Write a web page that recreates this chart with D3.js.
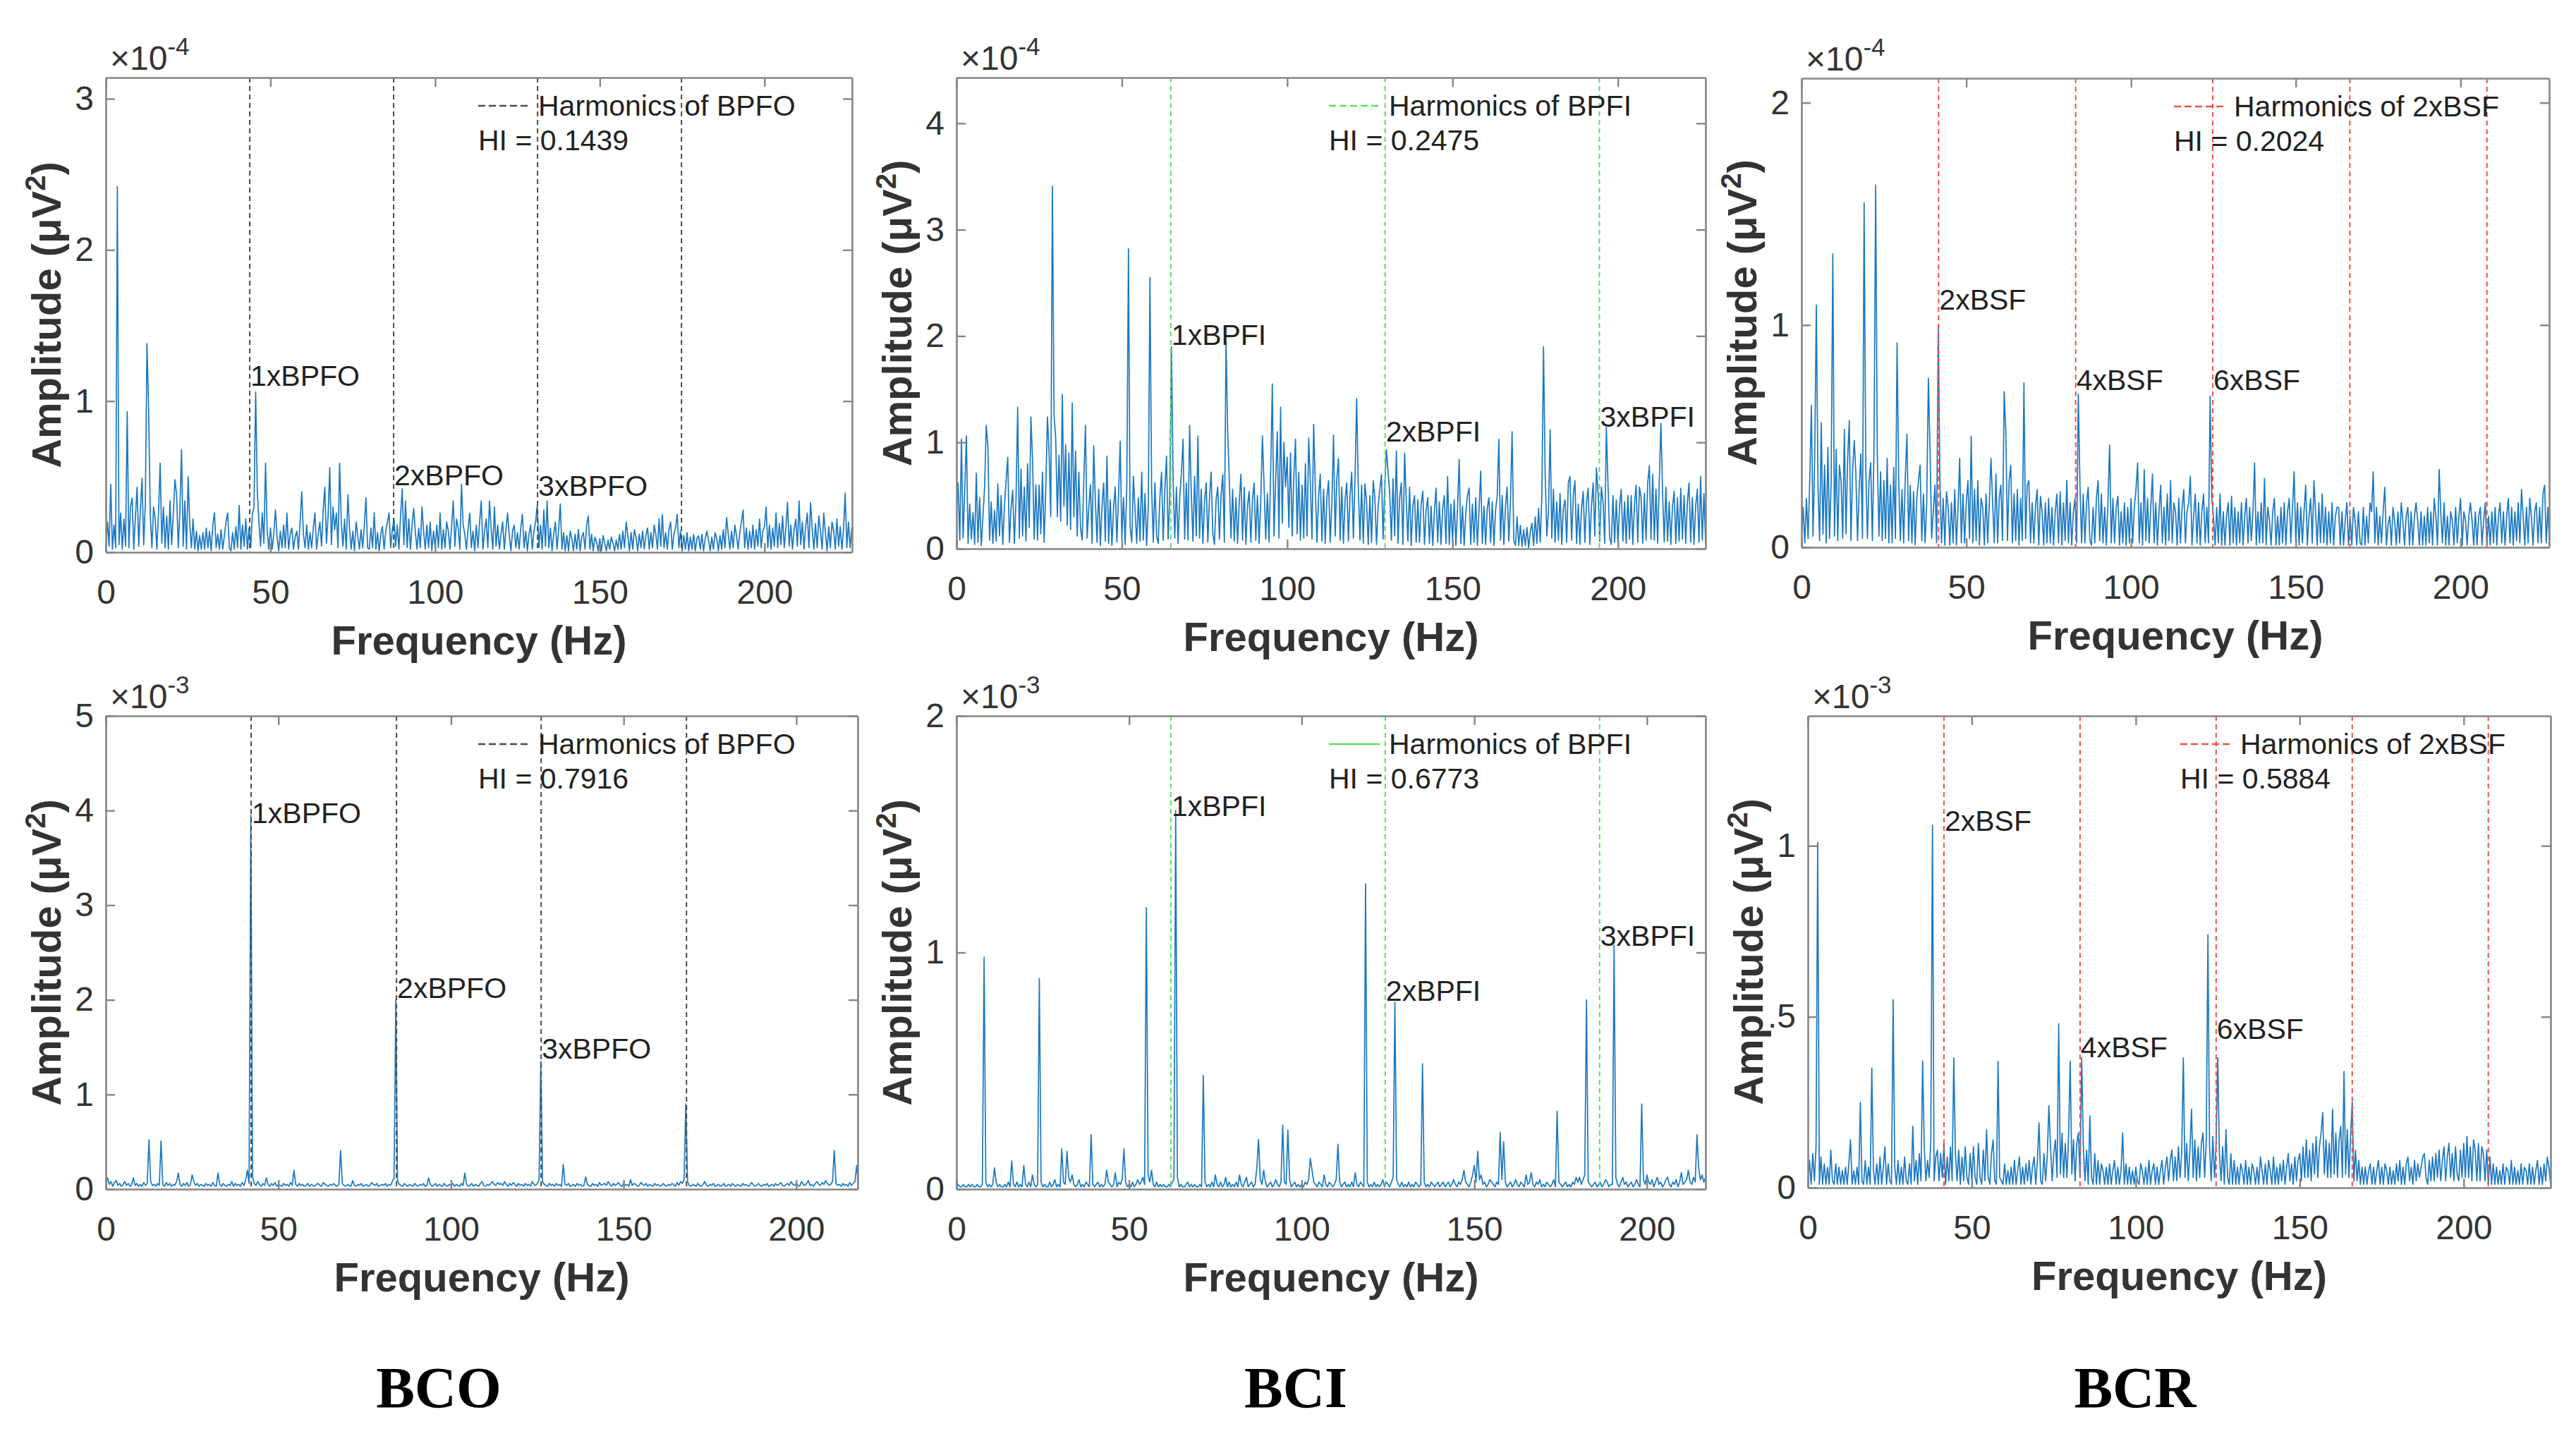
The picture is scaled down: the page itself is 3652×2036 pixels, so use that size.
<!DOCTYPE html>
<html><head><meta charset="utf-8">
<script src="https://cdn.jsdelivr.net/npm/d3@7"></script>
<style>body{margin:0;background:#fff}svg{display:block}</style>
</head><body>
<svg id="c" width="3652" height="2036"></svg>
<script>
// ---------- DATA (amplitudes sampled every 0.5 Hz, starting at 0 Hz) ----------
const freqStep = 0.5;
const xTickValues = [0, 50, 100, 150, 200];

// BCO, top (units of 1e-6 µV²)
const bcoTopAmp = [
3,20,4,45,2,18,3,242,5,26,2,22,4,93,3,30,36,2,24,43,
4,28,49,5,32,138,95,25,3,30,22,2,26,59,6,30,3,24,2,34,
5,26,48,38,3,28,68,4,34,2,50,18,3,22,2,14,1,11,2,13,
2,16,3,14,1,18,26,3,12,2,15,2,11,20,26,3,1,13,2,17,
3,31,2,18,4,22,2,16,3,25,30,106,40,20,4,26,6,59,14,2,
16,2,12,28,10,1,14,3,18,3,26,2,12,16,2,10,14,2,20,40,
12,3,18,2,13,3,16,26,2,12,20,4,28,43,6,24,56,5,30,15,
26,3,59,20,4,22,2,38,16,2,14,1,20,11,2,15,3,18,36,3,
2,16,3,26,2,13,1,12,17,2,14,20,26,3,15,22,4,18,2,24,
42,5,34,3,22,2,18,29,13,2,16,3,30,14,2,18,3,20,1,14,
3,18,3,26,2,15,3,20,14,2,17,34,4,22,16,2,45,18,12,2,
15,26,3,14,1,18,3,20,34,2,14,22,3,34,16,2,30,4,18,2,
12,20,2,15,26,11,1,14,18,3,13,2,16,25,3,14,1,12,18,2,
14,20,31,3,18,2,28,4,34,3,16,1,12,20,2,15,32,2,13,1,
11,1,14,9,1,12,2,15,1,10,13,2,18,24,2,12,1,10,7,1,
9,1,11,6,1,8,2,10,6,1,8,2,12,2,14,3,20,11,1,13,
2,15,10,1,12,3,14,2,11,16,2,13,3,18,12,2,22,4,25,3,
13,2,15,20,2,12,16,25,3,14,1,11,2,13,1,10,2,12,1,9,
11,2,12,1,9,14,8,1,10,2,13,9,1,11,2,15,3,23,12,2,
14,3,18,11,2,13,20,28,3,16,2,14,3,18,2,15,4,22,3,14,
17,30,3,18,2,16,4,26,3,19,5,24,3,16,33,4,18,2,15,22,
4,34,5,20,2,17,26,3,33,15,2,19,3,24,14,2,26,13,1,17,
3,20,14,2,22,4,17,2,15,39,3,20,3,16,2];

// BCI, top (units of 1e-6 µV²)
const bciTopAmp = [
40,62,8,103,10,55,106,5,42,9,34,4,71,6,48,3,30,58,116,96,
8,44,5,36,7,61,12,50,4,40,64,86,6,38,55,5,46,133,10,75,
12,58,7,80,20,124,84,9,60,8,60,14,72,6,56,124,90,30,341,126,
104,30,88,26,145,40,98,22,90,18,137,30,92,12,72,20,8,64,116,10,
38,60,5,97,44,6,56,3,40,62,7,87,5,46,3,38,58,6,50,101,
9,48,4,60,282,20,6,68,36,5,48,7,72,8,52,3,40,255,58,6,
62,12,5,48,72,8,56,87,9,50,190,66,10,58,5,48,70,103,9,62,
8,116,52,7,68,12,106,10,56,5,44,62,6,48,72,14,4,46,58,9,
50,70,6,195,110,64,10,56,7,48,5,44,70,8,58,4,40,54,6,46,
62,8,50,5,44,106,60,9,52,6,72,155,12,64,110,10,133,24,100,58,
86,20,90,12,68,103,14,72,8,60,10,80,12,104,62,9,117,58,6,50,
70,7,56,5,48,64,6,42,107,12,66,85,8,58,5,46,62,7,50,72,
10,66,141,56,8,60,5,61,44,4,50,6,64,48,4,40,56,70,9,60,
93,72,52,8,66,12,92,5,48,62,4,90,44,7,58,3,40,50,6,46,
6,42,54,4,36,48,5,40,3,34,57,6,44,4,38,50,5,68,4,42,
7,46,3,38,84,5,40,3,34,50,57,4,42,6,48,3,36,73,5,40,
4,38,48,6,44,3,36,50,103,8,50,4,40,58,7,44,110,8,3,30,
3,22,2,18,3,20,1,16,24,3,30,5,38,6,50,190,70,12,36,112,
10,56,6,44,8,52,4,38,46,6,62,68,8,50,64,5,42,4,38,54,
6,44,57,4,40,62,12,76,52,7,58,44,5,114,60,10,4,50,6,46,
4,40,56,7,44,5,50,9,50,4,42,60,6,58,48,5,52,8,62,78,
9,70,8,56,5,64,118,52,6,58,7,44,4,40,54,5,48,7,57,9,
50,5,44,62,6,48,4,40,56,6,68,8,52,5,46];

// BCR, top (units of 1e-6 µV²)
const bcrTopAmp = [
3,18,2,22,4,30,64,5,40,109,28,3,56,6,37,2,45,4,30,132,
5,44,3,37,30,4,53,6,40,57,3,34,48,33,3,26,42,4,155,36,
4,30,38,3,44,163,42,5,34,3,30,4,40,2,28,2,36,4,92,30,
3,26,2,32,51,3,28,2,25,1,22,30,37,3,24,2,20,76,44,4,
16,28,2,100,30,2,22,1,25,18,1,20,2,26,1,18,40,2,24,2,
20,30,4,50,2,26,3,30,1,22,18,1,24,2,20,40,20,2,33,2,
22,28,3,70,52,3,30,37,2,24,3,26,1,22,3,74,4,28,30,2,
20,2,18,26,1,23,16,1,20,2,22,2,18,1,16,24,2,25,1,20,
3,30,2,20,1,16,22,2,69,28,2,24,2,20,27,3,1,18,2,22,
30,3,24,2,18,1,20,46,2,22,2,18,23,1,16,2,20,1,18,2,
22,2,18,26,38,2,20,1,35,3,22,2,18,33,2,20,1,16,28,2,
18,1,24,3,30,2,20,16,1,22,2,18,26,2,16,20,32,1,14,24,
2,20,1,16,24,2,18,2,68,22,14,1,18,2,24,1,16,1,14,20,
1,23,2,18,1,16,2,20,1,14,22,2,18,3,16,38,1,16,2,20,
2,31,1,18,12,1,16,22,1,14,1,18,2,20,1,16,22,2,18,34,
2,20,1,18,2,16,28,1,14,22,2,30,16,1,20,2,24,2,18,1,
16,2,20,1,14,18,18,1,16,1,12,20,1,14,1,18,12,1,16,2,
1,18,1,14,2,20,16,34,2,18,1,14,2,16,27,1,10,14,1,18,
12,1,16,2,20,12,1,14,18,1,16,1,14,20,12,1,16,1,14,1,
18,2,16,1,22,14,1,35,16,2,20,1,14,1,16,12,1,18,2,14,
22,1,16,12,1,14,20,12,1,16,1,14,18,1,12,20,1,14,1,16,
2,18,1,14,20,2,16,1,14,22,2,18,1,16,3,20,2,26,14,1,
18,2,22,14,1,16,20,2,18,2,24,28,2,18,1];

// BCO, bottom (units of 1e-5 µV²)
const bcoBotAmp = [
6,12,5,8,3,7,9,4,6,3,5,8,4,6,3,5,12,4,6,3,
5,3,7,4,6,52,8,4,5,3,6,4,51,5,3,7,4,6,3,5,
4,8,17,5,3,6,4,7,3,5,15,8,4,6,3,5,4,3,6,4,
5,3,7,4,3,17,5,3,6,4,3,5,4,8,3,6,4,5,3,7,
4,9,20,6,395,14,6,4,8,5,3,6,4,12,5,3,6,4,7,3,
5,4,3,6,4,5,3,7,4,20,5,3,6,4,5,3,4,6,3,5,
4,3,5,6,4,3,7,5,4,3,5,4,6,4,3,5,41,6,4,3,
5,4,3,9,4,3,5,4,6,3,4,5,3,4,7,5,4,6,3,4,
5,4,6,3,5,4,8,12,200,9,5,4,3,6,4,3,5,4,3,6,
4,3,5,4,6,3,4,12,5,3,4,6,3,5,4,3,6,4,3,5,
4,6,3,5,4,3,6,4,17,5,3,4,6,3,5,4,3,6,8,4,
3,5,4,6,8,5,4,7,5,6,4,8,5,3,6,4,7,5,3,6,
4,5,3,6,4,5,3,8,5,4,6,10,135,8,5,4,3,6,4,5,
3,6,4,5,3,26,5,4,6,3,4,5,3,6,4,5,3,4,13,5,
4,3,6,4,5,3,7,4,5,6,4,8,5,3,6,4,5,7,4,3,
6,4,5,3,10,4,6,5,3,4,7,5,4,6,3,5,4,3,6,4,
5,3,4,6,4,3,5,4,6,5,3,7,4,8,6,10,90,8,4,3,
5,4,3,6,4,3,5,8,4,3,5,4,6,3,4,5,3,4,6,3,
4,5,3,6,4,3,5,4,3,6,4,5,3,4,7,5,3,4,6,4,
3,5,4,6,3,4,5,3,6,4,5,7,4,3,5,6,4,8,5,4,
6,4,3,8,5,4,6,9,4,5,3,6,8,5,4,7,5,9,6,4,
5,8,41,6,4,5,3,6,4,5,3,7,4,6,8,25,5];

// BCI, bottom (units of 1e-5 µV²)
const bciBotAmp = [
1,2,1,1,2,1,1,2,1,2,1,1,2,1,1,2,98,3,1,2,
1,2,9,3,1,2,1,1,2,1,3,1,12,2,1,3,1,2,1,10,
2,1,3,1,6,2,1,2,89,3,1,2,1,1,3,1,2,4,1,2,
1,17,3,2,16,5,3,6,2,1,2,4,1,2,1,3,2,1,23,2,
1,2,3,1,2,1,2,8,3,2,1,2,7,1,3,2,4,17,3,1,
2,1,3,1,2,4,2,3,5,2,119,6,3,8,2,1,3,1,2,1,
2,1,1,2,1,3,4,160,5,1,2,1,1,2,3,1,2,1,2,1,
1,2,1,48,3,1,2,1,3,1,6,2,1,3,1,2,5,1,3,1,
2,1,3,1,6,2,1,3,5,1,2,3,1,2,9,21,4,2,8,3,
1,2,3,1,2,4,2,1,3,27,3,2,25,4,1,2,3,1,2,1,
2,1,3,2,4,13,8,3,2,1,3,2,1,6,2,1,3,2,1,2,
4,19,3,1,2,3,1,2,1,3,1,7,2,1,3,2,1,129,3,1,
2,1,3,1,2,1,2,4,1,3,2,1,3,5,79,4,2,1,3,1,
2,1,3,1,2,1,3,2,1,2,53,3,1,2,1,3,2,1,2,3,
1,2,3,1,2,3,1,2,4,2,1,3,2,4,8,3,2,1,3,6,
10,3,16,4,6,2,3,1,2,4,3,2,1,3,2,24,4,20,3,1,
2,3,1,2,4,2,1,3,2,1,6,2,3,7,2,1,3,2,4,1,
2,1,3,2,1,2,4,1,33,3,2,1,2,3,1,2,1,3,2,5,
3,5,2,4,6,80,3,2,1,2,3,1,2,3,1,2,4,3,1,2,
2,103,5,2,1,3,5,2,3,1,2,3,1,2,4,2,1,36,4,2,
6,3,2,4,1,3,5,2,3,1,2,4,5,2,1,3,2,4,1,3,
7,2,3,4,8,3,2,5,3,23,9,4,6,3,5];

// BCR, bottom (units of 1e-5 µV²)
const bcrBotAmp = [
1,8,1,10,2,12,101,1,9,1,7,1,6,1,11,2,1,7,1,6,
1,5,1,6,1,7,14,1,5,1,6,1,25,2,1,8,1,6,1,35,
5,1,7,1,9,1,6,12,1,7,2,1,55,6,1,8,1,6,1,9,
2,1,7,1,18,2,8,1,10,2,37,12,2,8,3,14,106,2,9,11,
2,10,3,13,1,9,2,12,2,38,10,2,11,1,9,2,12,3,1,10,
2,12,3,1,13,3,1,11,2,17,3,1,10,14,2,1,37,3,2,1,
7,1,5,1,6,1,8,1,5,9,1,6,1,7,2,8,1,6,9,1,
8,19,2,1,10,2,9,24,12,2,10,14,3,48,4,16,3,13,3,15,
37,4,14,2,13,16,3,38,12,2,11,1,21,3,1,10,1,8,1,7,
5,1,6,1,7,1,5,8,1,6,1,5,16,1,7,1,6,1,5,1,
6,2,1,7,5,1,6,1,8,1,5,7,1,6,1,5,8,1,6,9,
2,8,11,2,9,2,12,3,10,38,3,13,2,11,23,3,14,2,12,3,
13,16,3,14,74,12,2,15,3,13,38,10,2,12,1,17,3,1,10,1,
8,1,6,1,7,5,1,8,1,6,1,7,5,1,6,1,9,5,1,7,
1,8,5,1,9,1,6,1,7,2,8,1,6,10,2,7,1,9,2,8,
10,2,12,3,14,3,11,2,13,4,15,3,12,16,22,4,14,3,13,3,
23,4,16,3,14,18,3,34,4,17,3,15,25,2,11,2,8,1,6,1,
6,1,5,7,1,6,1,5,8,1,6,1,7,5,1,6,1,5,1,7,
2,8,1,6,1,7,9,2,6,1,8,2,7,3,6,9,10,3,1,8,
2,9,2,10,3,11,2,8,12,2,9,13,3,10,2,12,4,2,11,3,
13,3,15,3,12,2,14,11,2,13,2,12,10,2,11,1,9,1,7,1,
6,1,5,1,7,1,6,5,1,8,1,6,1,5,1,7,1,6,5,1,
7,1,6,1,5,8,1,6,1,7,2,9,6,1];

// harmonic frequencies (Hz)
const bpfoTopHarm = [43.7, 87.4, 131.1, 174.8];
const bpfiTopHarm = [64.8, 129.6, 194.4];
const bsfTopHarm  = [41.6, 83.2, 124.8, 166.4, 208.0];
const bpfoBotHarm = [42.1, 84.2, 126.1, 168.2];
const bpfiBotHarm = [62.1, 124.2, 186.3];
const bsfBotHarm  = [41.5, 83.0, 124.5, 166.0, 207.5];

// harmonic annotation texts and the amplitude at which each sits
const bpfoLabels = ["1xBPFO", "2xBPFO", "3xBPFO"];
const bpfiLabels = ["1xBPFI", "2xBPFI", "3xBPFI"];
const bsfLabels  = ["2xBSF", "4xBSF", "6xBSF"];
const bcoTopLabelAmp = [1.10e-4, 0.443e-4, 0.373e-4];
const bciTopLabelAmp = [1.915e-4, 1.007e-4, 1.146e-4];
const bcrTopLabelAmp = [1.069e-4, 0.707e-4, 0.707e-4];
const bcoBotLabelAmp = [3.867e-3, 2.019e-3, 1.378e-3];
const bciBotLabelAmp = [1.577e-3, 0.796e-3, 1.028e-3];
const bcrBotLabelAmp = [1.044e-3, 0.382e-3, 0.435e-3];

// health indices
const hiValues = ["0.1439", "0.2475", "0.2024", "0.7916", "0.6773", "0.5884"];
const legendTexts = ["Harmonics of BPFO", "Harmonics of BPFI", "Harmonics of 2xBSF"];
const columnTitles = ["BCO", "BCI", "BCR"];

// y ticks (in units of the exponent)
const yTicksBcoTop = [0, 1, 2, 3];
const yTicksBciTop = [0, 1, 2, 3, 4];
const yTicksBcrTop = [0, 1, 2];
const yTicksBcoBot = [0, 1, 2, 3, 4, 5];
const yTicksBciBot = [0, 1, 2];
const yTicksBcrBot = [0, 0.5, 1];
const yTickTextBcrBot = ["0", ".5", "1"];

// ---------- STYLE / LAYOUT ----------
const C_BPFO = "#4a4a4a", C_BPFI = "#5ede5e", C_BSF = "#f05050";
const panels = [
 {values:bcoTopAmp, unit:1e-6, xMax:226.6, yMax:3.14e-4, exp:-4, yTicks:yTicksBcoTop, harm:bpfoTopHarm, labels:bpfoLabels, labelAmp:bcoTopLabelAmp, legend:0, hi:0, color:C_BPFO, dashLegend:true, box:{l:150,r:1208,t:110,b:783}},
 {values:bciTopAmp, unit:1e-6, xMax:226.5, yMax:4.43e-4, exp:-4, yTicks:yTicksBciTop, harm:bpfiTopHarm, labels:bpfiLabels, labelAmp:bciTopLabelAmp, legend:1, hi:1, color:C_BPFI, dashLegend:true, box:{l:1356,r:2418,t:110,b:778}},
 {values:bcrTopAmp, unit:1e-6, xMax:226.9, yMax:2.11e-4, exp:-4, yTicks:yTicksBcrTop, harm:bsfTopHarm, labels:bsfLabels, labelAmp:bcrTopLabelAmp, legend:2, hi:2, color:C_BSF, dashLegend:true, box:{l:2554,r:3614,t:111,b:776}},
 {values:bcoBotAmp, unit:1e-5, xMax:217.8, yMax:5e-3, exp:-3, yTicks:yTicksBcoBot, harm:bpfoBotHarm, labels:bpfoLabels, labelAmp:bcoBotLabelAmp, legend:0, hi:3, color:C_BPFO, dashLegend:true, box:{l:150,r:1216,t:1015,b:1686}},
 {values:bciBotAmp, unit:1e-5, xMax:217.0, yMax:2e-3, exp:-3, yTicks:yTicksBciBot, harm:bpfiBotHarm, labels:bpfiLabels, labelAmp:bciBotLabelAmp, legend:1, hi:4, color:C_BPFI, dashLegend:false, box:{l:1356,r:2418,t:1015,b:1686}},
 {values:bcrBotAmp, unit:1e-5, xMax:226.5, yMax:1.38e-3, exp:-3, yTicks:yTicksBcrBot, yTickText:yTickTextBcrBot, harm:bsfBotHarm, labels:bsfLabels, labelAmp:bcrBotLabelAmp, legend:2, hi:5, color:C_BSF, dashLegend:true, box:{l:2563,r:3616,t:1015,b:1684}}
];
const titleX = [622, 1837, 3027];

const svg = d3.select("#c");
const FONT = "'Liberation Sans', Arial, Helvetica, sans-serif";
const defs = svg.append("defs");
const AX = "#858585", TXT = "#333";

panels.forEach((p, k) => {
  const {l, r, t, b} = p.box;
  const x = d3.scaleLinear().domain([0, p.xMax]).range([l, r]);
  const y = d3.scaleLinear().domain([0, p.yMax]).range([b, t]);
  const g = svg.append("g");
  defs.append("clipPath").attr("id", "clip" + k).append("rect")
    .attr("x", l).attr("y", t).attr("width", r - l).attr("height", b - t);

  // spectrum
  const pts = p.values.map((v, i) => [i * freqStep, v * p.unit]);
  g.append("path").datum(pts)
    .attr("clip-path", `url(#clip${k})`)
    .attr("fill", "none").attr("stroke", "#1a78c2").attr("stroke-width", 1.7)
    .attr("stroke-linejoin", "round")
    .attr("d", d3.line().x(d => x(d[0])).y(d => y(d[1])));

  // harmonic lines
  g.selectAll(".h").data(p.harm).enter().append("line")
    .attr("x1", d => x(d)).attr("x2", d => x(d)).attr("y1", t).attr("y2", b)
    .attr("stroke", p.color).attr("stroke-width", 2).attr("stroke-dasharray", "7,5");

  // axes (box with inward ticks)
  const tickScale = Math.pow(10, p.exp);
  const yVals = p.yTicks.map(v => v * tickScale);
  const yText = p.yTickText || p.yTicks.map(v => String(v));
  const axB = d3.axisBottom(x).tickValues(xTickValues).tickSizeInner(-13).tickSizeOuter(0).tickPadding(39).tickFormat(d3.format("d"));
  const axT = d3.axisTop(x).tickValues(xTickValues).tickSizeInner(-13).tickSizeOuter(0).tickFormat("");
  const axL = d3.axisLeft(y).tickValues(yVals).tickSizeInner(-13).tickSizeOuter(0).tickPadding(17).tickFormat((d, i) => yText[i]);
  const axR = d3.axisRight(y).tickValues(yVals).tickSizeInner(-13).tickSizeOuter(0).tickFormat("");
  const axes = [
    g.append("g").attr("transform", `translate(0,${b})`).call(axB),
    g.append("g").attr("transform", `translate(0,${t})`).call(axT),
    g.append("g").attr("transform", `translate(${l},0)`).call(axL),
    g.append("g").attr("transform", `translate(${r},0)`).call(axR)
  ];
  axes.forEach(a => {
    a.selectAll(".domain").attr("stroke", AX).attr("stroke-width", 2.6);
    a.selectAll(".tick line").attr("stroke", AX).attr("stroke-width", 2.4);
    a.selectAll("text").attr("font-family", FONT).attr("font-size", 48).attr("fill", TXT);
  });

  // exponent label ×10^n
  const ex = g.append("text").attr("x", l + 6).attr("y", t - 11)
    .attr("font-family", FONT).attr("font-size", 48).attr("fill", TXT);
  ex.append("tspan").text("\u00d710");
  ex.append("tspan").attr("dy", -21).attr("font-size", 35).text(String(p.exp));

  // axis titles
  g.append("text").attr("x", (l + r) / 2).attr("y", b + 145).attr("text-anchor", "middle")
    .attr("font-family", FONT).attr("font-size", 58).attr("font-weight", "bold").attr("fill", TXT)
    .text("Frequency (Hz)");
  const yl = g.append("text").attr("transform", `translate(${l - 64},${(t + b) / 2}) rotate(-90)`)
    .attr("text-anchor", "middle").attr("font-family", FONT).attr("font-size", 58)
    .attr("font-weight", "bold").attr("fill", TXT);
  yl.append("tspan").text("Amplitude (\u03bcV");
  yl.append("tspan").attr("dy", -22).attr("font-size", 40).text("2");
  yl.append("tspan").attr("dy", 22).text(")");

  // harmonic annotations
  p.labels.forEach((s, i) => {
    g.append("text").attr("x", x(p.harm[i]) + 1).attr("y", y(p.labelAmp[i]))
      .attr("font-family", FONT).attr("font-size", 41).attr("fill", "#222").text(s);
  });

  // legend
  const lx = l + 528, ly = t + 40;
  g.append("line").attr("x1", lx).attr("x2", lx + 72).attr("y1", ly).attr("y2", ly)
    .attr("stroke", p.color).attr("stroke-width", 2.4)
    .attr("stroke-dasharray", p.dashLegend ? "10,5" : null);
  g.append("text").attr("x", lx + 85).attr("y", ly + 14)
    .attr("font-family", FONT).attr("font-size", 41).attr("fill", "#222").text(legendTexts[p.legend]);
  g.append("text").attr("x", lx).attr("y", t + 103)
    .attr("font-family", FONT).attr("font-size", 41).attr("fill", "#222").text("HI = " + hiValues[p.hi]);
});

// column titles
svg.selectAll(".ct").data(columnTitles).enter().append("text")
  .attr("x", (d, i) => titleX[i]).attr("y", 1995).attr("text-anchor", "middle")
  .attr("font-family", "'Liberation Serif', 'Times New Roman', serif")
  .attr("font-size", 82).attr("font-weight", "bold").attr("fill", "#000").text(d => d);
</script>
</body></html>
